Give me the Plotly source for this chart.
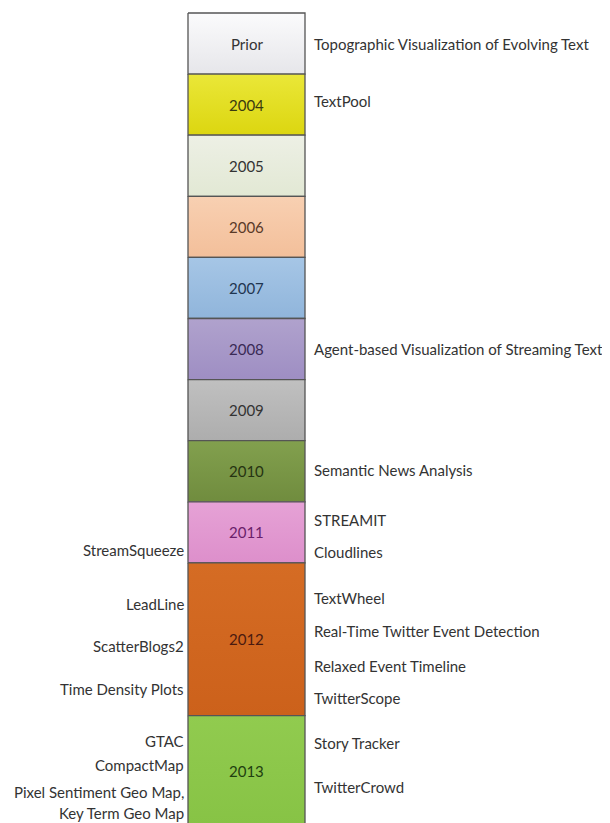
import plotly.graph_objects as go

# Timeline periods (in timeline units, top = 0)
periods = ["Prior", "2004", "2005", "2006", "2007", "2008", "2009", "2010", "2011", "2012", "2013"]
period_start = [0, 1, 2, 3, 4, 5, 6, 7, 8, 9, 11.5]
period_end = [1, 2, 3, 4, 5, 6, 7, 8, 9, 11.5, 13.3]
period_top_colors = ["#fbfbfc", "#eae738", "#edf0e5", "#f8d0b2", "#a6c6e6", "#b0a2cd",
                     "#c0c0c0", "#82a04e", "#e6a2d6", "#d56c24", "#91cb4f"]
period_bottom_colors = ["#e6e6ea", "#dcd610", "#e2e8d4", "#f3bf9a", "#90b5db", "#9e8ec3",
                        "#adadad", "#708c3e", "#dd8fcb", "#cc611b", "#87c345"]
period_text_colors = ["#333333", "#3a3a10", "#333333", "#5a3a28", "#1f3550", "#3a2a55",
                      "#333333", "#263312", "#6a1f6a", "#4a1a10", "#1f4010"]

# Techniques shown to the right of the timeline
right_labels = ["Topographic Visualization of Evolving Text", "TextPool",
                "Agent-based Visualization of Streaming Text", "Semantic News Analysis",
                "STREAMIT", "Cloudlines", "TextWheel", "Real-Time Twitter Event Detection",
                "Relaxed Event Timeline", "TwitterScope", "Story Tracker", "TwitterCrowd"]
right_pos = [0.5, 1.44, 5.5, 7.48, 8.3, 8.82, 9.57, 10.11, 10.69, 11.21, 11.95, 12.67]

# Techniques shown to the left of the timeline
left_labels = ["StreamSqueeze", "LeadLine", "ScatterBlogs2", "Time Density Plots",
               "GTAC", "CompactMap", "Pixel Sentiment Geo Map,", "Key Term Geo Map"]
left_pos = [8.79, 9.67, 10.36, 11.06, 11.91, 12.31, 12.75, 13.09]

BAR_X0 = 188
BAR_X1 = 305
FONT = "Lato"
FS = 15

fig = go.Figure()
for name, s, e, c_top, c_bot in zip(periods, period_start, period_end,
                                    period_top_colors, period_bottom_colors):
    fig.add_trace(go.Scatter(
        x=[BAR_X0, BAR_X1, BAR_X1, BAR_X0, BAR_X0],
        y=[s, s, e, e, s],
        mode="lines",
        fill="toself",
        fillgradient=dict(type="vertical", colorscale=[[0, c_bot], [1, c_top]]),
        line=dict(color="#555555", width=1.3),
        hoverinfo="skip",
        showlegend=False,
        name=name,
    ))

for name, s, e, tc in zip(periods, period_start, period_end, period_text_colors):
    fig.add_annotation(x=(BAR_X0 + BAR_X1) / 2, y=(s + e) / 2, text=name, showarrow=False,
                       xanchor="center", yanchor="middle",
                       font=dict(family=FONT, size=FS, color=tc))

for lab, p in zip(right_labels, right_pos):
    fig.add_annotation(x=312, y=p, text=lab, showarrow=False, xanchor="left",
                       yanchor="middle", font=dict(family=FONT, size=FS, color="#333333"))

for lab, p in zip(left_labels, left_pos):
    fig.add_annotation(x=186, y=p, text=lab, showarrow=False, xanchor="right",
                       yanchor="middle", font=dict(family=FONT, size=FS, color="#333333"))

fig.update_layout(
    width=602, height=815,
    margin=dict(l=0, r=0, t=0, b=0),
    paper_bgcolor="white", plot_bgcolor="white",
    xaxis=dict(range=[8, 610], visible=False, fixedrange=True),
    yaxis=dict(range=[13.257, -0.082], visible=False, fixedrange=True),
)

fig.write_html("out.html")
